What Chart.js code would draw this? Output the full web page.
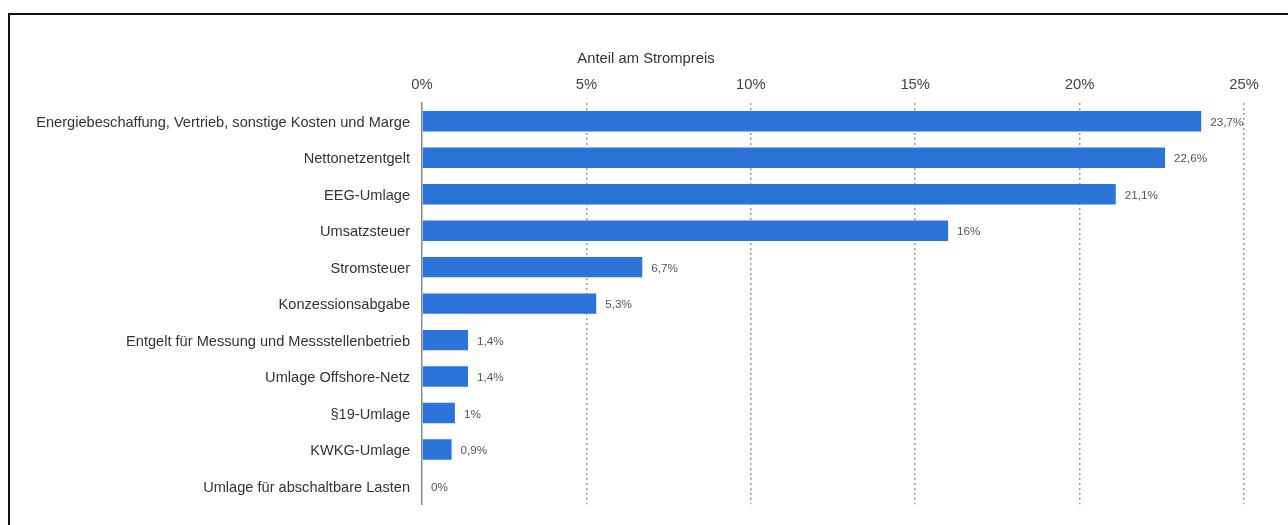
<!DOCTYPE html>
<html>
<head>
<meta charset="utf-8">
<script src="https://cdn.jsdelivr.net/npm/chart.js@4.4.1/dist/chart.umd.min.js"></script>
<style>
    html, body { margin: 0; padding: 0; background: #ffffff; overflow: hidden; }
    #wrap { position: relative; width: 1288px; height: 525px; }
    #frame { position: absolute; left: 8px; top: 13px; width: 1300px; height: 600px; border: 2px solid #111; box-sizing: border-box; }
    #chart { position: absolute; left: 0; top: 0; }
</style>
</head>
<body>
<div id="wrap">
    <div id="frame"></div>
    <canvas id="chart" width="1288" height="525"></canvas>
</div>
<script>
// Kategorien und Werte (Anteil am Strompreis in %)
const categories = [
    'Energiebeschaffung, Vertrieb, sonstige Kosten und Marge',
    'Nettonetzentgelt',
    'EEG-Umlage',
    'Umsatzsteuer',
    'Stromsteuer',
    'Konzessionsabgabe',
    'Entgelt für Messung und Messstellenbetrieb',
    'Umlage Offshore-Netz',
    '§19-Umlage',
    'KWKG-Umlage',
    'Umlage für abschaltbare Lasten'
];
const shares = [23.7, 22.6, 21.1, 16, 6.7, 5.3, 1.4, 1.4, 1, 0.9, 0];
const axisTitle = 'Anteil am Strompreis';

const FONT = "'Liberation Sans', Arial, sans-serif";

function formatPercent(v) {
    return String(v).replace('.', ',') + '%';
}

// Werte neben den Balken
const valueLabels = {
    id: 'valueLabels',
    afterDatasetsDraw(chart) {
        const ctx = chart.ctx;
        const meta = chart.getDatasetMeta(0);
        ctx.save();
        ctx.font = '11.7px ' + FONT;
        ctx.fillStyle = '#555';
        ctx.textAlign = 'left';
        ctx.textBaseline = 'middle';
        meta.data.forEach(function(bar, i) {
            ctx.fillText(formatPercent(shares[i]), bar.x + 9, bar.y + 1.5);
        });
        ctx.restore();
    }
};

// Achsentitel oben
const topTitle = {
    id: 'topTitle',
    afterDraw(chart) {
        const ctx = chart.ctx;
        ctx.save();
        ctx.font = '14.8px ' + FONT;
        ctx.fillStyle = '#333';
        ctx.textAlign = 'center';
        ctx.textBaseline = 'middle';
        ctx.fillText(axisTitle, 646, 59);
        ctx.restore();
    }
};

new Chart(document.getElementById('chart').getContext('2d'), {
    type: 'bar',
    data: {
        labels: categories,
        datasets: [{
            data: shares,
            backgroundColor: '#2c73da',
            borderWidth: 0,
            categoryPercentage: 0.56,
            barPercentage: 1
        }]
    },
    options: {
        indexAxis: 'y',
        responsive: false,
        animation: false,
        layout: {
            padding: { left: 0, right: 44, top: 70, bottom: 17 }
        },
        plugins: {
            legend: { display: false },
            tooltip: { enabled: false }
        },
        scales: {
            x: {
                position: 'top',
                min: 0,
                max: 25,
                afterFit: function(scale) { scale.height = 33; },
                ticks: {
                    stepSize: 5,
                    padding: 9,
                    color: '#444',
                    font: { family: FONT, size: 14.8 },
                    callback: function(value) { return value + '%'; }
                },
                grid: {
                    drawTicks: false,
                    color: function(ctx) { return ctx.index === 0 ? 'rgba(0,0,0,0)' : '#9a9a9a'; },
                    lineWidth: 1.5
                },
                border: { display: false, dash: [2, 3] }
            },
            y: {
                afterFit: function(scale) { scale.width = 422; },
                ticks: {
                    padding: 12,
                    labelOffset: 1.5,
                    color: '#333',
                    font: { family: FONT, size: 14.6 }
                },
                grid: { display: false, drawTicks: false },
                border: { display: true, color: '#8a8a8a', width: 1.5 }
            }
        }
    },
    plugins: [valueLabels, topTitle]
});
</script>
</body>
</html>
